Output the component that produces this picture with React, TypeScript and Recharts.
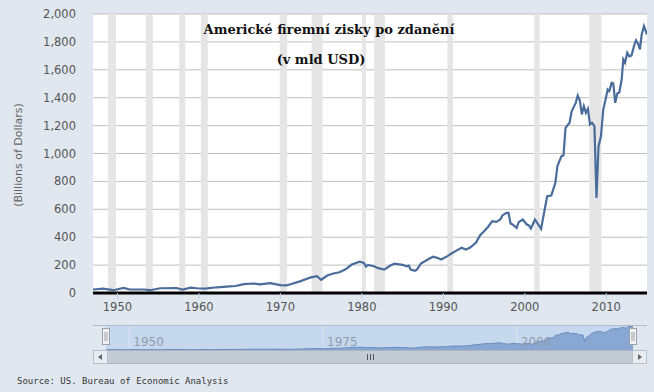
import React from "react";
import {
  ComposedChart,
  Line,
  XAxis,
  YAxis,
  CartesianGrid,
  ReferenceArea,
  AreaChart,
  Area,
} from "recharts";

// quarter dates (decimal years) and profits after tax, billions USD
const years = [
  1947.0, 1948.25, 1949.5, 1950.75, 1951.5, 1953.25, 1954.0, 1955.25, 1957.25, 1958.0,
  1959.0, 1959.75, 1960.75, 1962.25, 1963.75, 1964.5, 1965.5, 1966.75, 1967.5, 1968.75,
  1970.0, 1970.75, 1971.25, 1972.5, 1973.25, 1973.75, 1974.5, 1975.0, 1975.75, 1976.5,
  1977.25, 1978.0, 1978.75, 1979.75, 1980.25, 1980.5, 1980.75, 1981.5, 1982.0, 1982.75,
  1983.5, 1984.0, 1985.0, 1985.5, 1985.75, 1986.0, 1986.5, 1986.75, 1987.25, 1988.25,
  1988.75, 1989.25, 1989.75, 1990.5, 1991.0, 1991.5, 1992.25, 1992.75, 1993.25, 1994.0,
  1994.5, 1995.0, 1995.5, 1996.0, 1996.5, 1997.0, 1997.25, 1997.75, 1998.0, 1998.25,
  1998.5, 1999.0, 1999.25, 1999.75, 2000.25, 2000.5, 2000.75, 2001.25, 2002.0, 2002.25,
  2002.75, 2003.25, 2003.75, 2004.0, 2004.5, 2004.75, 2005.0, 2005.5, 2005.75, 2006.25,
  2006.5, 2006.75, 2007.0, 2007.25, 2007.5, 2007.75, 2008.0, 2008.25, 2008.55, 2008.8,
  2009.05, 2009.35, 2009.63, 2009.96, 2010.17, 2010.37, 2010.67, 2010.86, 2011.1, 2011.35,
  2011.6, 2011.89, 2012.09, 2012.3, 2012.58, 2012.83, 2013.1, 2013.4, 2013.65, 2013.89,
  2014.13, 2014.35, 2014.63, 2015.0,
];
const profits = [
  25, 31, 20, 36, 25, 25, 20, 34, 36, 25,
  38, 34, 31, 41, 48, 50, 64, 68, 62, 71,
  56, 55, 63, 85, 102, 112, 120, 95, 125, 140,
  149, 170, 204, 225, 216, 190, 202, 192, 178, 168,
  197, 211, 202, 192, 197, 168, 159, 168, 211, 245,
  260, 252, 240, 264, 283, 300, 324, 312, 324, 360,
  412, 443, 475, 515, 510, 527, 556, 575, 575, 498,
  491, 467, 508, 527, 491, 484, 462, 527, 460, 539,
  694, 699, 790, 909, 981, 986, 1184, 1220, 1303, 1363,
  1416, 1382, 1280, 1339, 1292, 1320, 1208, 1220, 1196, 682,
  1052, 1124, 1315, 1399, 1459, 1447, 1507, 1502, 1363, 1430,
  1437, 1530, 1674, 1650, 1722, 1697, 1703, 1769, 1812, 1789,
  1746, 1853, 1913, 1853,
];

const recessionStarts = [1948.83, 1953.5, 1957.58, 1960.25, 1969.92, 1973.83, 1980.0, 1981.5, 1990.5, 2001.17, 2007.92];
const recessionEnds = [1949.83, 1954.33, 1958.33, 1961.08, 1970.83, 1975.17, 1980.5, 1982.83, 1991.17, 2001.83, 2009.42];

const yTicks = [0, 200, 400, 600, 800, 1000, 1200, 1400, 1600, 1800, 2000];
const xTicks = [1950, 1960, 1970, 1980, 1990, 2000, 2010];
const navTicks = [1950, 1975, 2000];

const data = years.map((year, i) => ({ year, value: profits[i] }));

// navigator labels sit inside the strip, just right of their grid line
const NavTick = ({ x, payload }: any) => (
  <text x={x + 4} y={21} fill="#8f9cab" fontSize={12} fontFamily="DejaVu Sans">
    {payload.value}
  </text>
);

const navMargin = { top: 0, right: 21, left: 106, bottom: 0 };

const App = () => {
  return (
    <div
      style={{
        position: "relative",
        width: 654,
        height: 392,
        background: "#e0e7ef",
        overflow: "hidden",
      }}
    >
      <style>{`body{margin:0}`}</style>

      <div style={{ position: "absolute", left: 0, top: 0 }}>
        <ComposedChart width={654} height={320} data={data} margin={{ top: 14, right: 7, left: 0, bottom: 0 }}>
          <CartesianGrid vertical={false} stroke="#c0c0c0" fill="#ffffff" />
          {recessionStarts.map((s, i) => (
            <ReferenceArea
              key={s}
              x1={s}
              x2={recessionEnds[i]}
              fill="#e5e5e5"
              fillOpacity={1}
              stroke="none"
            />
          ))}
          <XAxis
            dataKey="year"
            type="number"
            domain={[1947, 2015]}
            ticks={xTicks}
            allowDataOverflow
            height={27}
            tickSize={6}
            tickMargin={4}
            axisLine={{ stroke: "#000", strokeWidth: 3 }}
            tickLine={{ stroke: "#c0d0e0" }}
            tick={{ fill: "#555", fontSize: 11.5, fontFamily: "DejaVu Sans" }}
          />
          <YAxis
            domain={[0, 2000]}
            ticks={yTicks}
            width={93}
            axisLine={false}
            tickLine={false}
            tickSize={0}
            tickMargin={17}
            tickFormatter={(v: number) => v.toLocaleString("en-US")}
            tick={{ fill: "#555", fontSize: 11.5, fontFamily: "DejaVu Sans" }}
          />
          <Line
            dataKey="value"
            type="linear"
            stroke="#4a6c9b"
            strokeWidth={2.2}
            dot={false}
            isAnimationActive={false}
          />
        </ComposedChart>
      </div>

      {/* navigator */}
      <div style={{ position: "absolute", left: 0, top: 325 }}>
        <AreaChart width={654} height={25} data={data} margin={navMargin}>
          <CartesianGrid horizontal={false} stroke="#d9e4f1" fill="#c6d8ee" />
          <YAxis hide domain={[0, 2000]} />
          <XAxis dataKey="year" type="number" domain={[1947, 2015]} ticks={navTicks} hide />
          <Area
            dataKey="value"
            type="linear"
            stroke="#6a8cbc"
            strokeWidth={1}
            fill="#88a7d3"
            fillOpacity={1}
            isAnimationActive={false}
          />
        </AreaChart>
      </div>
      {/* navigator labels, drawn over the series */}
      <div style={{ position: "absolute", left: 0, top: 325 }}>
        <AreaChart width={654} height={25} data={data} margin={navMargin}>
          <YAxis hide domain={[0, 2000]} />
          <XAxis
            dataKey="year"
            type="number"
            domain={[1947, 2015]}
            ticks={navTicks}
            interval={0}
            height={1}
            axisLine={false}
            tickLine={false}
            tick={<NavTick />}
          />
        </AreaChart>
      </div>

      <svg width={654} height={392} style={{ position: "absolute", left: 0, top: 0, pointerEvents: "none" }}>
        <text x={329} y={34} textAnchor="middle" fontFamily="DejaVu Serif" fontWeight="bold" fontSize={13} fill="#111">
          Americké firemní zisky po zdanění
        </text>
        <text x={321} y={64} textAnchor="middle" fontFamily="DejaVu Serif" fontWeight="bold" fontSize={13} fill="#111">
          (v mld USD)
        </text>
        <text
          x={18}
          y={155}
          transform="rotate(-90 18 155)"
          textAnchor="middle"
          dominantBaseline="central"
          fontFamily="DejaVu Sans"
          fontSize={11}
          fill="#666"
        >
          (Billions of Dollars)
        </text>

        {/* navigator frame, handles and scrollbar */}
        <line x1={93} x2={647} y1={325.5} y2={325.5} stroke="#b3bcc7" />
        <rect x={93.5} y={350.5} width={553} height={13} fill="#dfe5ec" stroke="#b8c0ca" />
        <rect x={107.5} y={350.5} width={525} height={13} fill="#c3cbd5" stroke="#aab3be" />
        <rect x={93.5} y={350.5} width={14} height={13} fill="#e8edf2" stroke="#b8c0ca" />
        <rect x={632.5} y={350.5} width={14} height={13} fill="#e8edf2" stroke="#b8c0ca" />
        <path d="M102 354 L98 357 L102 360 Z" fill="#666" />
        <path d="M638 354 L642 357 L638 360 Z" fill="#666" />
        <line x1={367.5} x2={367.5} y1={354} y2={360} stroke="#555" />
        <line x1={370.5} x2={370.5} y1={354} y2={360} stroke="#555" />
        <line x1={373.5} x2={373.5} y1={354} y2={360} stroke="#555" />
        {[106, 633].map((hx) => (
          <g key={hx}>
            <rect x={hx - 3.5} y={328.5} width={7} height={16} fill="#f2f2f2" stroke="#9aa2ac" />
            <line x1={hx - 1} x2={hx - 1} y1={332} y2={341} stroke="#9aa2ac" />
            <line x1={hx + 1} x2={hx + 1} y1={332} y2={341} stroke="#9aa2ac" />
          </g>
        ))}

        <text x={17} y={384} fontFamily="DejaVu Sans Mono" fontSize={9} fill="#333">
          Source: US. Bureau of Economic Analysis
        </text>
      </svg>
    </div>
  );
};

export default App;
